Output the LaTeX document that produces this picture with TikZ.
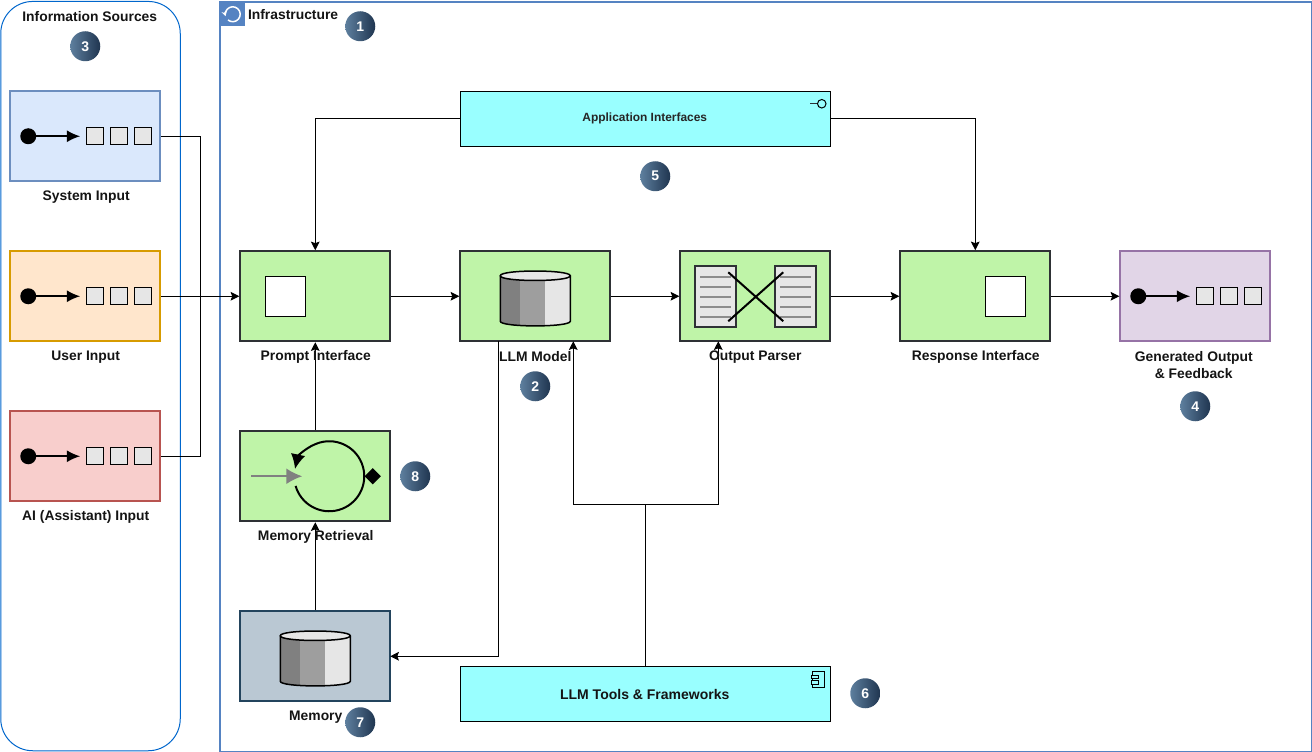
\documentclass[tikz,border=0pt]{standalone}
\usepackage{fontspec}
\setmainfont{Liberation Sans}
\usetikzlibrary{arrows.meta,calc,shapes.geometric}
\definecolor{greenfill}{HTML}{BFF4A8}
\definecolor{boxline}{HTML}{2E3135}
\definecolor{cyanfill}{HTML}{99FFFF}
\definecolor{frameblue}{HTML}{5583C2}
\definecolor{iconlight}{HTML}{E6E6E6}
\definecolor{iconmid}{HTML}{9E9E9E}
\definecolor{icondark}{HTML}{808080}
\definecolor{docline}{HTML}{8C8C8C}
\definecolor{badgeA}{HTML}{5E7F9E}
\definecolor{badgeB}{HTML}{1F3550}
\definecolor{srcblue}{HTML}{6C8EBF}
\definecolor{srcbluefill}{HTML}{DAE8FC}
\definecolor{srcorange}{HTML}{D79B00}
\definecolor{srcorangefill}{HTML}{FFE6CC}
\definecolor{srcred}{HTML}{B85450}
\definecolor{srcredfill}{HTML}{F8CECC}
\definecolor{srcpurple}{HTML}{9673A6}
\definecolor{srcpurplefill}{HTML}{E1D5E7}
\definecolor{memline}{HTML}{23445D}
\definecolor{memfill}{HTML}{BAC8D3}
\definecolor{sourceframe}{HTML}{0066CC}
\tikzset{
  x=0.75pt,y=-0.75pt,
  px/.style={line width=#1*0.75pt},
  block/.style={draw,rectangle,inner sep=0pt,px=2,minimum width=112.5pt,minimum height=67.5pt},
  greenbox/.style={block,draw=boxline,fill=greenfill},
  wide/.style={draw=black,fill=cyanfill,rectangle,inner sep=0pt,px=1,minimum width=277.5pt,minimum height=41.25pt},
  lbl/.style={inner sep=0pt,align=center,font=\fontsize{10.4pt}{12.75pt}\selectfont\bfseries,text=black!92},
  badge/.style={circle,inner sep=0pt,minimum size=22.5pt,left color=badgeA,right color=badgeB,shading angle=90,
    text=white,font=\fontsize{10.5pt}{12pt}\selectfont\bfseries},
  link/.style={draw=black,px=1,-{Stealth[length=6.5pt,width=6.5pt,inset=1.2pt]}},
  plain/.style={draw=black,px=1},
  seqicon/.pic={
    \fill[black] (-57,0) circle[radius=6pt];
    \draw[black,px=2,-{Latex[length=10pt,width=9pt]}] (-57,0) -- (-5,0);
    \foreach \q in {1,25,49}{\draw[black,px=1,fill=iconlight] (\q,-8.5) rectangle ++(17,17);}
  },
  cylicon/.pic={
    \begin{scope}
      \clip (-35,-23) -- (-35,22.5) .. controls (-35,28.7) and (35,28.7) .. (35,22.5) -- (35,-23) .. controls (35,-29.3) and (-35,-29.3) .. (-35,-23) -- cycle;
      \fill[icondark] (-35,-30) rectangle (-15,30);
      \fill[iconmid] (-15,-30) rectangle (10,30);
      \fill[iconlight] (10,-30) rectangle (35,30);
    \end{scope}
    \draw[black,px=1.5,fill=iconlight] (-35,-23) .. controls (-35,-29.3) and (35,-29.3) .. (35,-23) .. controls (35,-16.7) and (-35,-16.7) .. (-35,-23) -- cycle;
    \draw[black,px=1.5] (-35,-23) -- (-35,22.5) .. controls (-35,28.7) and (35,28.7) .. (35,22.5) -- (35,-23);
  },
  docicon/.pic={
    \draw[boxline,px=2,fill=iconlight] (-20.5,-30.5) rectangle (20.5,30.5);
    \foreach \q in {-20,-10,0,10,20}{\draw[docline,px=2] (-15.5,\q) -- (15.5,\q);}
  }
}
\begin{document}
\begin{tikzpicture}
\useasboundingbox (-0.25,-0.25) rectangle (1311.75,751.75);

% containers
\node[draw=frameblue,px=2,rectangle,inner sep=0pt,minimum width=818.3pt,minimum height=562.1pt,anchor=north west] (infra) at (219.2,1) {};
\fill[frameblue] (219.2,1) rectangle (244.5,25.5);
\draw[white,px=1.5,-{Stealth[length=3.6pt,width=4pt]}] (232.5,14) ++(-130:5.6pt) arc[start angle=-130,end angle=195,radius=5.6pt];
\draw[draw=sourceframe,px=1,rounded corners=24pt] (0.5,1.2) rectangle (180,750.5);
\node[lbl,anchor=west] (infralabel) at (247.5,14) {Infrastructure};
\node[lbl] (sourceslabel) at (89.5,16) {Information Sources};

% source boxes
\node[block,draw=srcblue,fill=srcbluefill] (system) at (85,136) {};
\node[block,draw=srcorange,fill=srcorangefill] (user) at (85,296) {};
\node[block,draw=srcred,fill=srcredfill] (assistant) at (85,456) {};
\node[block,draw=srcpurple,fill=srcpurplefill] (generated) at (1195,296) {};
\pic at (85,136) {seqicon};
\pic at (85,296) {seqicon};
\pic at (85,456) {seqicon};
\pic at (1195,296) {seqicon};

% main boxes
\node[greenbox] (prompt) at (315,296) {};
\node[greenbox] (llm) at (535,296) {};
\node[greenbox] (parser) at (755,296) {};
\node[greenbox] (response) at (975,296) {};
\node[greenbox] (retrieval) at (315,476) {};
\node[block,draw=memline,fill=memfill] (memory) at (315,656) {};
\node[wide] (appif) at (645,118.5) {};
\node[wide] (tools) at (645,693.5) {};

% box icons
\node[draw=black,fill=white,px=1,rectangle,inner sep=0pt,minimum size=30pt] (promptsq) at (285,296) {};
\node[draw=black,fill=white,px=1,rectangle,inner sep=0pt,minimum size=30pt] (responsesq) at (1005,296) {};
\pic at (535,298.5) {cylicon};
\pic at (315,658.5) {cylicon};
\pic at (715.5,296.5) {docicon};
\pic at (795.5,296.5) {docicon};
\draw[black,px=2] (728,272) -- (783,321);
\draw[black,px=2] (728,321) -- (783,272);
% loop icon
\draw[black,px=2,-{Latex[length=11pt,width=11pt]}] (329,476) ++(196:26.25pt) arc[start angle=196,end angle=528,radius=26.25pt];
\draw[icondark,px=2,-{Latex[length=12pt,width=12pt]}] (251,476) -- (302,476);
\node[diamond,fill=black,inner sep=0pt,minimum size=12.5pt] (loopdiamond) at (372.5,476) {};
% port icons
\draw[boxline,px=1.5] (810,103.5) -- (817.5,103.5);
\draw[black,px=1] (821.5,103.5) circle[radius=3.2pt];
\draw[black,px=1] (812.5,671.5) rectangle (824.5,687);
\draw[black,px=1,fill=cyanfill] (811,675) rectangle (818,678.5);
\draw[black,px=1,fill=cyanfill] (811,680.5) rectangle (818,684);

% connector bends
\coordinate (busS) at (200,136);
\coordinate (busA) at (200,456);
\coordinate (llmdrop) at (498,341);
\coordinate (llmin) at (573,341);
\coordinate (parserin) at (718,341);
\coordinate (toolsup) at (645,504);
\coordinate (memin) at (390,656);

% connectors
\draw[plain] (system.east) -- (busS) -- (busA) -- (assistant.east);
\draw[link] (user.east) -- (prompt.west);
\draw[link] (appif.west) -| (prompt.north);
\draw[link] (appif.east) -| (response.north);
\draw[link] (prompt.east) -- (llm.west);
\draw[link] (llm.east) -- (parser.west);
\draw[link] (parser.east) -- (response.west);
\draw[link] (response.east) -- (generated.west);
\draw[link] (retrieval.north) -- (prompt.south);
\draw[link] (memory.north) -- (retrieval.south);
\draw[link] (llmdrop) |- (memin);
\draw[plain] (tools.north) -- (toolsup);
\draw[link] (toolsup) -| (llmin);
\draw[link] (toolsup) -| (parserin);

% labels
\node[lbl] (l1) at (86,196.5) {System Input};
\node[lbl] (l2) at (85.5,356.5) {User Input};
\node[lbl] (l3) at (85.5,516.5) {AI (Assistant) Input};
\node[lbl] (l4) at (315.5,356.5) {Prompt Interface};
\node[lbl] (l5) at (535,356.5) {LLM Model};
\node[lbl] (l6) at (755,356.5) {Output Parser};
\node[lbl] (l7) at (975.5,356.5) {Response Interface};
\node[lbl] (l8) at (1193.5,364.5) {Generated Output\\\& Feedback};
\node[lbl] (l9) at (315.5,536.5) {Memory Retrieval};
\node[lbl] (l10) at (315.5,716.5) {Memory};
\node[inner sep=0pt,font=\fontsize{8.95pt}{10pt}\selectfont\bfseries,text=black!85] (appiflabel) at (644.5,118.5) {Application Interfaces};
\node[inner sep=0pt,font=\fontsize{10.5pt}{12pt}\selectfont\bfseries,text=black!92] (toolslabel) at (644.5,694) {LLM Tools \& Frameworks};

% badges
\node[badge] (b1) at (360,26) {1};
\node[badge] (b2) at (535,386) {2};
\node[badge] (b3) at (85,46) {3};
\node[badge] (b4) at (1195,406) {4};
\node[badge] (b5) at (655,176) {5};
\node[badge] (b6) at (865,693) {6};
\node[badge] (b7) at (360,722) {7};
\node[badge] (b8) at (415,476) {8};
\end{tikzpicture}
\end{document}
